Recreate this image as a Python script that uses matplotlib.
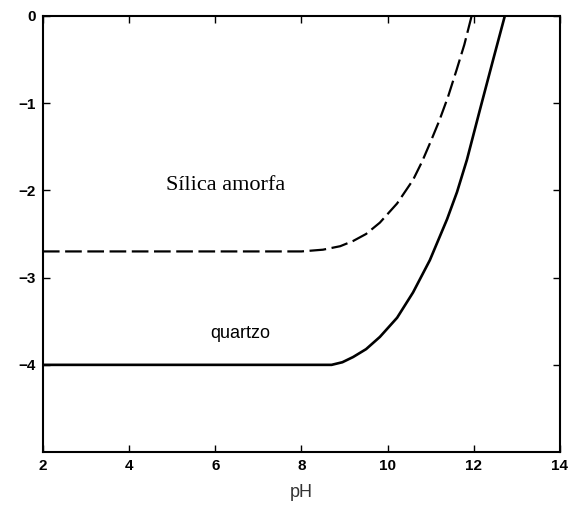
import matplotlib
matplotlib.use('Agg')
import matplotlib.pyplot as plt

# quartz solubility curve (log concentration vs pH)
ph_quartzo = [2.0, 8.7, 8.95, 9.2, 9.5, 9.82, 10.22, 10.59, 10.98, 11.38, 11.61, 11.84, 12.14, 12.45, 12.72]
log_quartzo = [-4.0, -4.0, -3.97, -3.91, -3.82, -3.68, -3.46, -3.17, -2.8, -2.33, -2.02, -1.65, -1.08, -0.5, 0.0]

# amorphous silica curve
ph_amorfa = [2.0, 8.0, 8.5, 8.9, 9.2, 9.5, 9.82, 10.22, 10.59, 10.8, 11.0, 11.2, 11.4, 11.6, 11.78, 11.95]
log_amorfa = [-2.7, -2.7, -2.68, -2.64, -2.58, -2.5, -2.37, -2.15, -1.88, -1.67, -1.44, -1.2, -0.93, -0.62, -0.33, 0.0]

x_ticks = [2, 4, 6, 8, 10, 12, 14]
y_ticks = [0, -1, -2, -3, -4]

fig = plt.figure(figsize=(5.72, 5.12), dpi=100)
ax = fig.add_axes([0.075, 0.117, 0.904, 0.852])

ax.plot(ph_quartzo, log_quartzo, color='black', lw=1.9, solid_joinstyle='round')
ax.plot(ph_amorfa, log_amorfa, color='black', lw=1.6, dashes=(7.5, 2.5))

ax.text(6.25, -1.94, 'Sílica amorfa', family='Liberation Serif', fontsize=16,
        ha='center', va='center')
ax.text(6.57, -3.64, 'quartzo', family='Liberation Sans', fontsize=13,
        ha='center', va='center')

ax.set_xlim(2, 14)
ax.set_ylim(-5, 0)
ax.set_xticks(x_ticks)
ax.set_yticks(y_ticks)
ax.tick_params(direction='in', length=5, width=1, top=True, right=True,
               labelsize=11, pad=5)
for lab in ax.get_xticklabels() + ax.get_yticklabels():
    lab.set_family('Liberation Sans')
    lab.set_fontweight('bold')
for s in ax.spines.values():
    s.set_linewidth(1.5)

ax.set_xlabel('pH', family='Liberation Sans', fontsize=13, color='#333333', labelpad=8)

fig.savefig('out.png', dpi=100)
